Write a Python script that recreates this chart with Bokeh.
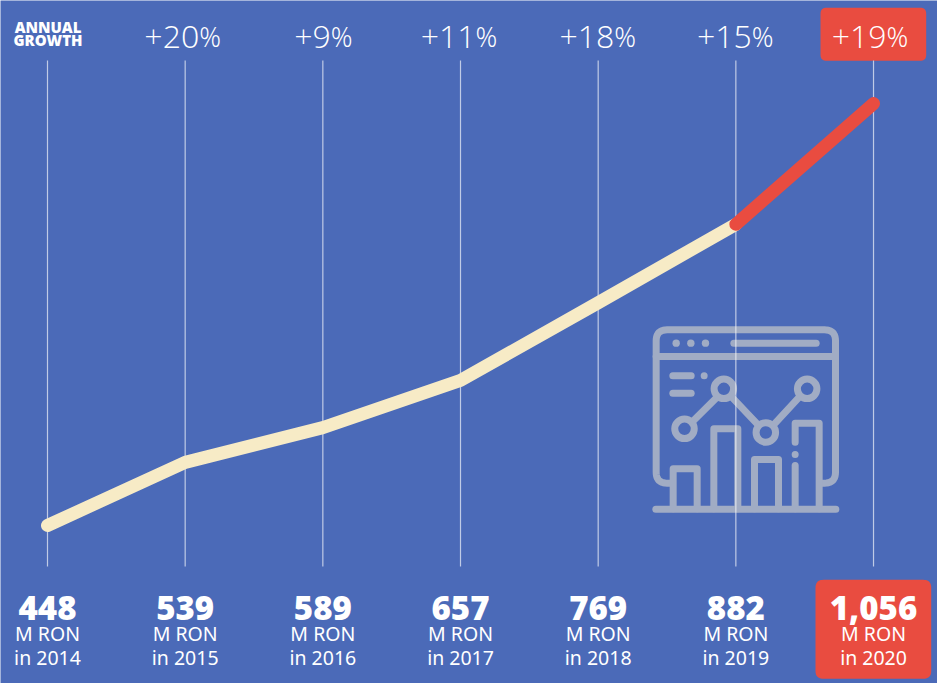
from bokeh.plotting import figure
from bokeh.models import Range1d
from bokeh.core.properties import value
from bokeh.embed import file_html
from bokeh.resources import INLINE
import math

years = [2014, 2015, 2016, 2017, 2018, 2019, 2020]
revenue = [448, 539, 589, 657, 769, 882, 1056]
value_labels = ["448", "539", "589", "657", "769", "882", "1,056"]
growth_labels = ["+20", "+9", "+11", "+18", "+15", "+19"]
growth_years = [2015, 2016, 2017, 2018, 2019, 2020]

W, H = 937, 683
BG = "#4B6AB8"
CREAM = "#F7EBC6"
RED = "#E94C40"
ICON = "#A1ACC4"
LIGHT = value("Open Sans Light, Lato Light")
REG = value("Noto Sans")
HEAVY = value("Open Sans ExtraBold, Lato Black")

PX_PER_YEAR = 137.67
PX_PER_UNIT = 0.694
def X(px):
    return 2014 + (px - 47) / PX_PER_YEAR
def Y(py):
    return 448 + (525 - py) / PX_PER_UNIT

p = figure(width=W, height=H, output_backend="svg", toolbar_location=None,
           x_range=Range1d(X(0), X(W)), y_range=Range1d(Y(H), Y(0)),
           x_axis_type=None, y_axis_type=None, min_border=0,
           background_fill_color=BG, border_fill_color=BG, outline_line_color=None)
p.grid.visible = False

def rounded(points, r):
    out = [points[0]]
    for i in range(1, len(points) - 1):
        a, b, c = points[i - 1], points[i], points[i + 1]
        d1 = math.dist(a, b); d2 = math.dist(c, b)
        s = (b[0] + (a[0] - b[0]) * r / d1, b[1] + (a[1] - b[1]) * r / d1)
        e = (b[0] + (c[0] - b[0]) * r / d2, b[1] + (c[1] - b[1]) * r / d2)
        for k in range(11):
            t = k / 10
            out.append(((1 - t) ** 2 * s[0] + 2 * t * (1 - t) * b[0] + t * t * e[0],
                        (1 - t) ** 2 * s[1] + 2 * t * (1 - t) * b[1] + t * t * e[1]))
    out.append(points[-1])
    return out

def round_box(x0, y0, x1, y1, r):
    pts = [((x0 + x1) / 2, y0), (x1, y0), (x1, y1), (x0, y1), (x0, y0), ((x0 + x1) / 2, y0)]
    pts = rounded(pts, r)
    p.patch([X(a) for a, b in pts], [Y(b) for a, b in pts], fill_color=RED, line_color=None)

def zx(v): return 640 + v / 3
def zy(v): return 310 + v / 3
def iline(pts, width=7, r=0):
    pts = [(zx(a), zy(b)) for a, b in pts]
    if r:
        pts = rounded(pts, r)
    p.line([X(a) for a, b in pts], [Y(b) for a, b in pts], line_color=ICON, line_width=width,
           line_cap="round", line_join="round")
def idot(a, b, size):
    p.scatter([X(zx(a))], [Y(zy(b))], size=size, fill_color=ICON, line_color=None)
def iring(a, b):
    p.scatter([X(zx(a))], [Y(zy(b))], size=19.5, fill_color=BG, line_color=ICON, line_width=7)

iline([(90, 518), (47, 518), (47, 58), (585, 58), (585, 518), (545, 518)], r=11)
iline([(47, 138), (585, 138)])
for a in (107, 151, 195):
    idot(a, 98, 7.4)
iline([(280, 98), (527, 98)])
iline([(97, 196), (152, 196)])
iline([(97, 248), (152, 248)])
idot(191, 196, 7)
iline([(157, 332), (228, 262)])
iline([(276, 262), (350, 340)])
iline([(402, 340), (474, 262)])
for a, b in ((132, 355), (250, 235), (376, 366), (500, 235)):
    iring(a, b)
iline([(98, 595), (98, 475), (170, 475), (170, 595)])
iline([(220, 595), (220, 355), (292, 355), (292, 595)])
iline([(342, 595), (342, 447), (414, 447), (414, 595)])
iline([(464, 395), (464, 338), (536, 338), (536, 595)])
iline([(464, 465), (464, 595)])
idot(464, 432, 7)
iline([(46, 596), (586, 596)])

round_box(820, 7.3, 925.7, 60.3, 6)
round_box(815, 579.3, 930.7, 678.3, 8)

p.segment(years, [Y(60)] * 7, years, [Y(566)] * 7, line_color="#FFFFFF", line_alpha=0.65, line_width=1.2)

p.line(years[:6], revenue[:6], line_color=CREAM, line_width=13, line_cap="round", line_join="round")
p.line(years[5:], revenue[5:], line_color=RED, line_width=13, line_cap="round", line_join="round")

joint = [14, 8, 15, 16, 16, 13]
gy = [Y(48)] * 6
p.text(growth_years, gy, text=growth_labels, x_offset=joint, y_offset=-12, text_align="right", text_baseline="alphabetic",
       text_font=LIGHT, text_font_size="32px", text_color="#FFFFFF")
p.text(growth_years, gy, text=["%"] * 6, x_offset=joint, y_offset=-12, text_align="left", text_baseline="alphabetic",
       text_font=LIGHT, text_font_size="27px", text_color="#FFFFFF")
p.text([X(47.5), X(47.5)], [Y(32), Y(45.7)], text=["ANNUAL", "GROWTH"], y_offset=-6, text_align="center",
       text_baseline="alphabetic", text_font=HEAVY, text_font_size="15px", text_color="#FFFFFF")

p.text(years, [Y(619)] * 7, text=value_labels, y_offset=-12, text_align="center", text_baseline="alphabetic",
       text_font=HEAVY, text_font_size="33px", text_color="#FFFFFF")
p.text(years, [Y(642)] * 7, text=["M RON"] * 7, y_offset=-9, text_align="center", text_baseline="alphabetic",
       text_font=REG, text_font_size="19.5px", text_color="#FFFFFF")
p.text(years, [Y(665.5)] * 7, text=[f"in {y}" for y in years], y_offset=-9, text_align="center", text_baseline="alphabetic",
       text_font=REG, text_font_size="19.5px", text_color="#FFFFFF")

html = file_html(p, INLINE).replace("<head>", "<head><style>html,body{margin:0;overflow:hidden}</style>", 1)
open("out.html", "w").write(html)
